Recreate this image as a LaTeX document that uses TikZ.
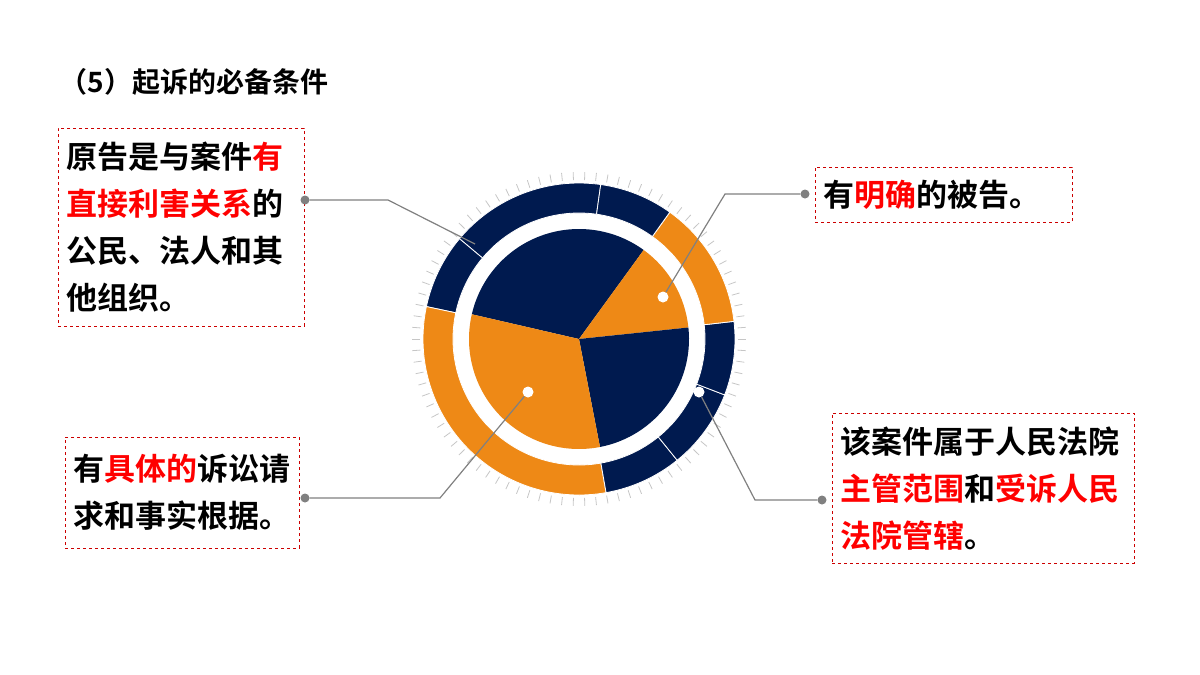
\documentclass[tikz,border=0pt]{standalone}
\usepackage{fontspec}
\setmainfont{Noto Sans CJK SC Bold}
\usetikzlibrary{calc}
\definecolor{navyblue}{HTML}{001A4F}
\definecolor{amber}{HTML}{EE8916}
\definecolor{hot}{HTML}{FF0000}
\newcommand\hl[1]{\textcolor{hot}{#1}}
\tikzset{
  notebox/.style={draw=hot!80!black, dashed, thin, anchor=north west, inner xsep=8pt,
    align=left, font=\fontsize{31}{47}\selectfont},
  lead/.style={draw=gray, line width=1.2pt},
  enddot/.style={circle, fill=gray, inner sep=0pt, minimum size=9pt},
  whitedot/.style={circle, fill=white, inner sep=0pt, minimum size=11pt},
}
\begin{document}
\begin{tikzpicture}[x=1pt,y=1pt]
  \useasboundingbox (0,0) rectangle (1200,-675);

  \node[anchor=west, font=\fontsize{28}{32}\selectfont] (title) at (56,-82) {（5）起诉的必备条件};

  \coordinate (c) at (579,-339);

  % ticks
  \foreach \a in {0,4,...,356}
    \draw[gray!45, line width=0.8pt] ($(c)+(\a:159)$) -- ($(c)+(\a:167)$);

  % outer ring
  \foreach \s/\e/\col in {82/140/navyblue, 140/168/navyblue, 168/280/amber,
      280/309/navyblue, 309/339/navyblue, 339/366.5/navyblue, 6.5/54.4/amber, 54.4/82/navyblue}
    \filldraw[fill=\col, draw=white, line width=0.8pt] ($(c)+(\s:156)$)
      arc[start angle=\s, end angle=\e, radius=156] -- ($(c)+(\e:126)$)
      arc[start angle=\e, end angle=\s, radius=126] -- cycle;

  % pie
  \foreach \s/\e/\col in {54/167/navyblue, 6/54/amber, -79/6/navyblue, 167/281/amber}
    \fill[\col] (c) -- ($(c)+(\s:110)$) arc[start angle=\s, end angle=\e, radius=110] -- cycle;

  % boxes
  \node[notebox, minimum width=246pt, minimum height=198pt, text width=230pt] (plaintiff) at (58,-128)
    {原告是与案件\hl{有}\\\hl{直接利害关系}的\\公民、法人和其\\他组织。};
  \node[notebox, minimum width=257pt, minimum height=55pt, text width=241pt] (defendant) at (815,-167)
    {有\hl{明确}的被告。};
  \node[notebox, minimum width=234pt, minimum height=111pt, text width=218pt] (claim) at (65,-437)
    {有\hl{具体的}诉讼请\\求和事实根据。};
  \node[notebox, minimum width=302pt, minimum height=150pt, text width=286pt] (court) at (832,-413)
    {该案件属于人民法院\\\hl{主管范围}和\hl{受诉人民}\\\hl{法院管辖}。};

  % leaders
  \node[whitedot] (d2) at (663,-297) {};
  \node[whitedot] (d3) at (528,-392) {};
  \node[whitedot] (d4) at (699,-392) {};
  \node[enddot] (e1) at (305,-200) {};
  \node[enddot] (e2) at (805,-194) {};
  \node[enddot] (e3) at (305,-498) {};
  \node[enddot] (e4) at (822,-500) {};
  \coordinate (t1) at (475,-244);

  \draw[lead] (e1) -- (388,-200) -- (t1);
  \draw[lead] (d2) -- (725,-194) -- (e2);
  \draw[lead] (d3) -- (440,-498) -- (e3);
  \draw[lead] (d4) -- (755,-500) -- (e4);
\end{tikzpicture}
\end{document}
